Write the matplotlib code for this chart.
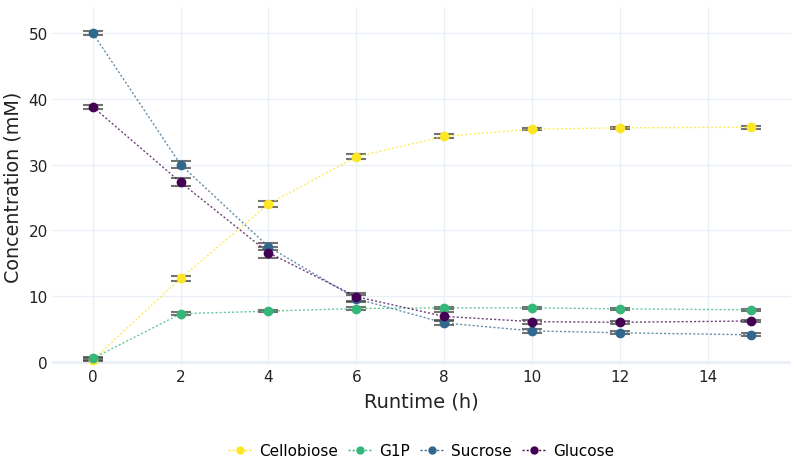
import matplotlib
matplotlib.use("Agg")
import matplotlib.pyplot as plt
from matplotlib.lines import Line2D

# ===== data =====
runtime = [0, 2, 4, 6, 8, 10, 12, 15]
cellobiose = [0.3, 12.7, 24.0, 31.2, 34.3, 35.4, 35.6, 35.7]
cellobiose_err = [0.2, 0.4, 0.5, 0.4, 0.3, 0.2, 0.2, 0.2]
g1p = [0.5, 7.3, 7.7, 8.1, 8.2, 8.2, 8.05, 7.9]
g1p_err = [0.2, 0.2, 0.2, 0.2, 0.2, 0.2, 0.2, 0.2]
sucrose = [50.0, 30.0, 17.5, 9.6, 5.9, 4.7, 4.4, 4.1]
sucrose_err = [0.3, 0.5, 0.5, 0.5, 0.3, 0.3, 0.2, 0.2]
glucose = [38.8, 27.3, 16.6, 9.9, 6.9, 6.1, 6.0, 6.2]
glucose_err = [0.3, 0.6, 0.8, 0.6, 0.6, 0.3, 0.2, 0.2]

names = ["Cellobiose", "G1P", "Sucrose", "Glucose"]
values = [cellobiose, g1p, sucrose, glucose]
errors = [cellobiose_err, g1p_err, sucrose_err, glucose_err]
colors = ["#fde725", "#35b779", "#31688e", "#440154"]

W, H = 794, 460
fig = plt.figure(figsize=(W / 100, H / 100), dpi=100)
ax = fig.add_axes([52 / W, 1 - 366 / H, (791 - 52) / W, (366 - 8) / H])

dots = (0, (1.5, 1.5))
for name, y, e, c in zip(names, values, errors, colors):
    ax.errorbar(runtime, y, yerr=e, fmt="none", ecolor="#444444", alpha=0.75,
                elinewidth=1.5, capsize=7.5, capthick=1.5, zorder=2)
    ax.plot(runtime, y, linestyle=dots, linewidth=1, color=c, alpha=0.75, zorder=3)
    ax.plot(runtime, y, linestyle="none", marker="o", markersize=6,
            color=c, zorder=4, label=name)

ax.set_xlim(-0.93, 15.9)
ax.set_ylim(-0.5, 54)
ax.set_xticks([0, 2, 4, 6, 8, 10, 12, 14])
ax.set_yticks([0, 10, 20, 30, 40, 50])
ax.grid(True, color="#ebf0f8", linewidth=1)
ax.axhline(0, color="#ebf0f8", linewidth=2, zorder=1)
ax.set_axisbelow(True)
for s in ax.spines.values():
    s.set_visible(False)
ax.tick_params(length=0, labelsize=11, labelcolor="#222222", pad=3)

ax.set_xlabel("Runtime (h)", fontsize=14, color="#222222", labelpad=5)
ax.set_ylabel("Concentration (mM)", fontsize=13.8, color="#222222", labelpad=4)

handles = [Line2D([0], [0], color=c, linestyle=dots, linewidth=1,
                  marker="o", markersize=5) for c in colors]
fig.legend(handles, names, loc="center", bbox_to_anchor=(421 / W, 1 - 452 / H),
           ncol=4, frameon=False, fontsize=11, handlelength=1.6,
           handletextpad=0.4, columnspacing=0.7)

fig.savefig("out.png", dpi=100)
